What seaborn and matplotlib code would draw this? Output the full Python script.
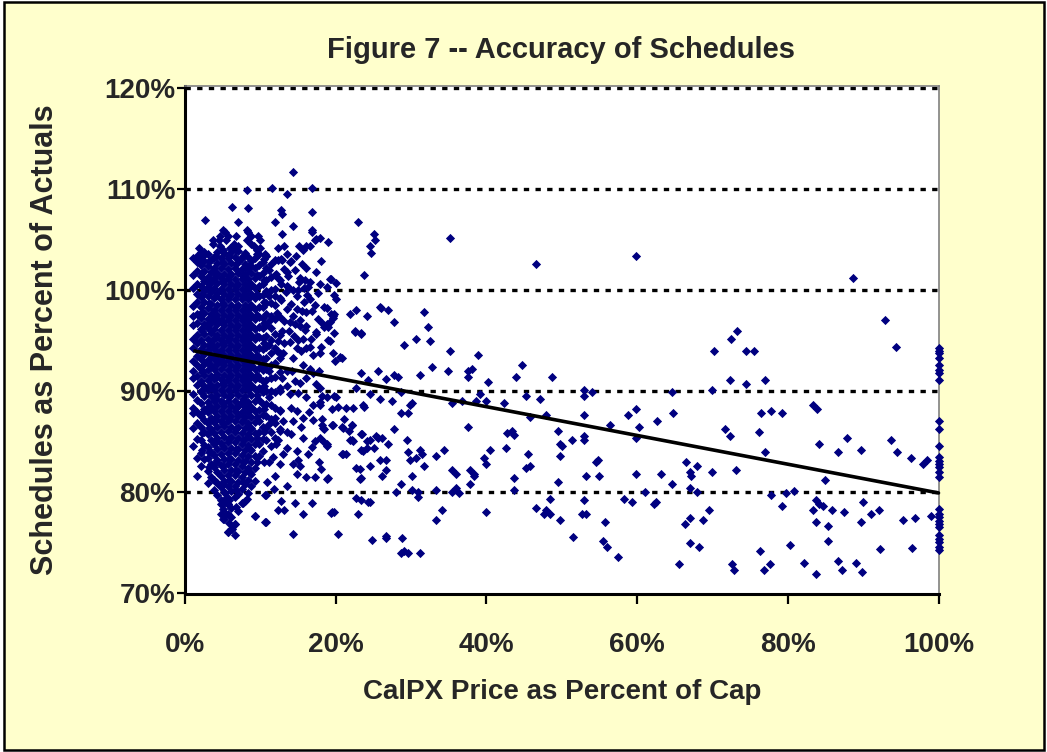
import numpy as np
import pandas as pd
import matplotlib
matplotlib.use("Agg")
import matplotlib.pyplot as plt
from matplotlib.patches import Rectangle
from matplotlib.ticker import FuncFormatter, FixedLocator
import seaborn as sns

# ---------------- data (in percent) ----------------
# dense core, column by column: x position and the y values in that column
core_x = [1.1, 1.6, 2.1, 2.5, 3.0, 3.4, 3.9, 4.3, 4.8, 5.2, 5.7, 6.1, 6.6, 7.0,
          7.5, 7.9, 8.4, 8.8, 9.3, 9.8, 10.3, 10.8, 11.4, 12.0, 12.6]
core_y = [
    [103.2, 101.5, 100.2, 98.5, 97.5, 96.6, 95.2, 94.3, 93.0, 92.0, 91.3, 89.7, 88.4, 87.9, 86.4, 84.6],
    [103.4, 102.8, 101.9, 100.6, 99.6, 98.9, 97.7, 96.8, 95.6, 94.8, 93.5, 92.6, 91.5, 90.6, 89.2, 88.0, 86.9, 85.3, 83.4, 81.6],
    [103.3, 102.5, 101.4, 100.4, 99.3, 98.4, 97.3, 96.2, 95.1, 94.2, 93.2, 92.2, 91.0, 90.0, 88.9, 87.6, 86.5, 85.2, 83.9, 82.6],
    [103.8, 102.9, 101.9, 100.9, 99.9, 98.9, 97.8, 96.7, 95.7, 94.6, 93.7, 92.7, 91.6, 90.5, 89.5, 88.3, 87.2, 86.0, 84.7, 83.3],
    [103.6, 102.4, 101.3, 100.3, 99.4, 98.3, 97.2, 96.3, 95.2, 94.1, 93.1, 92.1, 91.1, 90.1, 89.0, 88.0, 86.9, 85.8, 84.5, 83.4, 82.1, 80.9],
    [103.0, 101.8, 100.8, 99.8, 98.7, 97.7, 96.8, 95.8, 94.7, 93.6, 92.6, 91.5, 90.6, 89.5, 88.5, 87.4, 86.3, 85.2, 84.0, 82.8, 81.5],
    [103.3, 102.2, 101.2, 100.2, 99.2, 98.1, 97.2, 96.2, 95.2, 94.2, 93.2, 92.2, 91.2, 90.1, 89.1, 88.1, 87.0, 85.9, 84.8, 83.7, 82.5, 81.2, 80.2],
    [103.8, 102.7, 101.7, 100.7, 99.7, 98.6, 97.6, 96.7, 95.6, 94.6, 93.7, 92.7, 91.7, 90.6, 89.6, 88.6, 87.6, 86.5, 85.4, 84.3, 83.2, 82.0, 80.9, 79.7],
    [103.2, 102.2, 101.2, 100.1, 99.1, 98.1, 97.1, 96.1, 95.1, 94.1, 93.1, 92.2, 91.2, 90.1, 89.1, 88.1, 87.1, 86.0, 84.9, 83.8, 82.7, 81.6, 80.5, 79.3, 78.9, 77.9],
    [103.7, 102.6, 101.6, 100.6, 99.6, 98.6, 97.6, 96.6, 95.6, 94.6, 93.6, 92.6, 91.6, 90.6, 89.6, 88.6, 87.6, 86.6, 85.5, 84.4, 83.3, 82.2, 81.1, 80.0, 79.0, 77.4],
    [103.2, 102.1, 101.1, 100.1, 99.1, 98.1, 97.1, 96.1, 95.1, 94.1, 93.1, 92.1, 91.1, 90.1, 89.1, 88.1, 87.1, 86.1, 85.0, 83.9, 82.8, 81.7, 80.6, 79.5, 78.9, 77.9, 76.1],
    [103.8, 102.7, 101.6, 100.6, 99.6, 98.6, 97.6, 96.6, 95.6, 94.6, 93.6, 92.6, 91.6, 90.6, 89.6, 88.6, 87.6, 86.5, 85.5, 84.4, 83.3, 82.2, 81.1, 80.1, 78.5, 77.6, 76.4],
    [103.3, 102.2, 101.1, 100.1, 99.1, 98.1, 97.1, 96.1, 95.1, 94.1, 93.1, 92.1, 91.1, 90.1, 89.1, 88.1, 87.1, 86.0, 85.0, 83.9, 82.8, 81.7, 80.6, 79.6, 76.9, 75.8],
    [103.9, 102.8, 101.7, 100.6, 99.6, 98.6, 97.6, 96.6, 95.6, 94.6, 93.6, 92.6, 91.6, 90.6, 89.6, 88.6, 87.6, 86.5, 85.4, 84.3, 83.2, 82.1, 81.0, 79.8, 78.2],
    [103.2, 102.1, 101.1, 100.1, 99.1, 98.1, 97.1, 96.1, 95.1, 94.1, 93.1, 92.1, 91.1, 90.1, 89.0, 88.0, 87.0, 85.9, 84.8, 83.7, 82.6, 81.5, 80.3, 79.0],
    [103.7, 102.6, 101.6, 100.6, 99.6, 98.6, 97.6, 96.6, 95.6, 94.6, 93.6, 92.6, 91.6, 90.6, 89.5, 88.5, 87.5, 86.4, 85.3, 84.2, 83.1, 82.0, 80.8, 79.2],
    [103.3, 102.1, 101.1, 100.1, 99.1, 98.1, 97.1, 96.1, 95.1, 94.1, 93.1, 92.1, 91.1, 90.1, 89.0, 88.0, 86.9, 85.8, 84.7, 83.6, 82.4, 81.2, 79.9],
    [102.9, 101.7, 100.6, 99.6, 98.6, 97.6, 96.6, 95.6, 94.6, 93.6, 92.6, 91.6, 90.6, 89.6, 88.5, 87.5, 86.4, 85.3, 84.2, 83.0, 81.8, 80.6],
    [103.2, 102.2, 101.2, 100.2, 99.2, 98.2, 97.2, 96.2, 95.2, 94.2, 93.2, 92.2, 91.2, 90.2, 89.1, 88.1, 87.0, 85.9, 84.8, 83.6, 82.4, 81.1, 77.7],
    [103.6, 102.5, 101.4, 100.4, 99.4, 98.4, 97.4, 96.4, 95.4, 94.3, 93.3, 92.3, 91.3, 90.3, 89.2, 88.2, 87.1, 86.0, 84.8, 83.6],
    [102.8, 101.7, 100.6, 99.5, 98.4, 97.3, 96.3, 95.3, 94.2, 93.2, 92.1, 91.0, 89.9, 88.8, 87.7, 86.5, 85.3, 84.1],
    [103.4, 102.2, 101.0, 99.9, 98.8, 97.7, 96.6, 95.5, 94.4, 93.3, 92.2, 91.1, 90.0, 88.8, 87.6, 86.4, 85.2, 79.7, 77.1],
    [102.6, 101.3, 100.0, 98.8, 97.5, 96.3, 95.1, 93.8, 92.6, 91.3, 90.0, 88.7, 87.3, 86.0, 84.6],
    [103.0, 101.5, 100.1, 98.6, 97.2, 95.7, 94.3, 92.8, 91.4, 89.9, 88.4, 86.9, 85.4],
    [101.0, 99.2, 97.4, 95.6, 93.8, 91.9, 90.0, 88.2, 86.3],
]

# more core columns lying between the ones above
mid_x = [2.3, 3.2, 4.1, 5.0, 5.9, 6.8, 7.7, 8.6, 9.5, 10.5, 11.1]
mid_y = [
    [103.0, 101.7, 99.6, 97.9, 96.0, 93.9, 91.9, 89.8, 87.9, 85.9, 84.2],
    [102.9, 100.6, 98.8, 96.8, 94.6, 92.7, 90.5, 88.6, 86.4, 84.0, 82.5],
    [103.4, 101.5, 99.4, 97.3, 95.4, 93.3, 91.4, 89.3, 87.2, 85.1, 83.0, 81.0],
    [102.8, 100.9, 98.8, 96.9, 94.8, 92.9, 90.8, 88.9, 86.8, 84.6, 82.6, 80.8, 78.4],
    [103.4, 101.4, 99.4, 97.4, 95.3, 93.4, 91.4, 89.4, 87.3, 85.3, 83.3, 81.2, 79.3, 77.0],
    [102.6, 100.4, 98.4, 96.4, 94.4, 92.4, 90.4, 88.4, 86.3, 84.3, 82.2, 80.2, 78.6],
    [103.4, 101.4, 99.4, 97.3, 95.4, 93.3, 91.4, 89.3, 87.2, 85.2, 83.0, 81.0],
    [102.5, 100.4, 98.5, 96.4, 94.4, 92.5, 90.4, 88.4, 86.3, 84.3, 82.0],
    [103.6, 101.5, 99.6, 97.6, 95.5, 93.6, 91.6, 89.6, 87.5, 85.4, 83.0],
    [103.1, 101.0, 98.9, 96.8, 94.8, 92.6, 90.5, 88.3, 86.0, 83.0],
    [102.0, 99.4, 97.0, 94.6, 92.0, 89.4, 86.8],
]

# upper edge of the cluster
top_pts = [(14.3, 111.7), (8.2, 109.9), (11.6, 110.1), (13.5, 109.5), (16.9, 110.1), (6.3, 108.3),
           (8.4, 108.2), (12.7, 108.0), (12.9, 107.6), (16.9, 107.8), (2.6, 107.0), (7.1, 106.8),
           (11.9, 106.8), (14.3, 106.4), (12.9, 105.6), (16.9, 105.8), (5.0, 106.0), (5.3, 105.8),
           (4.7, 105.4), (5.7, 105.4), (3.7, 105.0), (4.5, 105.0), (5.5, 105.0), (6.8, 105.4),
           (8.2, 106.0), (8.4, 105.8), (8.7, 105.4), (9.7, 105.4), (8.2, 105.0), (10.0, 105.0),
           (1.8, 104.2), (2.1, 103.8), (2.6, 103.6), (3.7, 104.6), (4.7, 104.4), (5.0, 104.0),
           (6.0, 104.2), (6.5, 104.6), (6.8, 104.0), (7.1, 104.4), (8.7, 104.6), (9.2, 104.4),
           (9.5, 104.0), (10.0, 104.2), (10.6, 103.6), (10.8, 103.4), (12.4, 104.2), (13.2, 104.4),
           (15.1, 104.4), (15.6, 104.0), (16.1, 104.4), (16.6, 104.4), (17.2, 105.0), (17.9, 105.2),
           (19.0, 104.8), (16.9, 106.0), (17.4, 105.1)]

# fringe of the cluster (about 11% to 25%) and its lower tail
fringe_pts = [(12.4, 103.0), (12.9, 103.0), (14.0, 102.8), (12.1, 101.6), (12.4, 101.2), (13.5, 101.8),
              (13.7, 101.4), (12.7, 100.6), (13.5, 100.4), (14.3, 100.0), (15.1, 100.8), (15.3, 101.2),
              (15.8, 100.2), (16.6, 100.8), (17.4, 101.8), (14.8, 98.2), (14.3, 97.5), (15.3, 97.1),
              (16.1, 97.9), (16.6, 99.1), (16.1, 96.5), (13.5, 103.6), (12.8, 103.1), (14.1, 102.9),
              (15.5, 102.6), (19.4, 101.1), (13.2, 102.1), (14.6, 102.0), (15.9, 101.0), (13.7, 100.3),
              (15.0, 100.0), (16.3, 100.3), (17.7, 99.7), (18.5, 98.4), (19.4, 97.7), (12.8, 99.0),
              (14.1, 98.7), (15.5, 98.0), (16.8, 98.0), (13.2, 97.0), (14.6, 96.7), (15.9, 96.1),
              (17.4, 95.7), (15.0, 95.1), (13.2, 94.8), (16.6, 94.4), (18.1, 94.4), (19.0, 95.1),
              (18.5, 96.4), (19.6, 93.8), (13.9, 94.9), (14.8, 94.3), (15.7, 95.2), (16.1, 94.3),
              (17.0, 93.6), (17.9, 93.8), (17.4, 95.9), (18.8, 96.7), (19.6, 97.5), (21.9, 97.7),
              (22.5, 95.9), (23.4, 95.7), (24.1, 97.5), (19.9, 93.0), (20.8, 93.3), (12.6, 93.3),
              (14.3, 93.3), (15.7, 92.6), (13.5, 92.0), (14.6, 91.0), (16.1, 91.3), (17.0, 91.8),
              (17.4, 90.7), (12.6, 90.3), (13.9, 89.7), (15.0, 89.8), (16.1, 89.4), (17.0, 88.7),
              (17.9, 89.0), (18.8, 89.4), (20.1, 89.4), (21.4, 88.4), (22.3, 88.4), (23.6, 88.7),
              (14.1, 88.4), (14.8, 88.1), (12.6, 88.1), (11.9, 87.4), (13.0, 87.1), (14.3, 87.1),
              (15.7, 87.4), (17.0, 87.2), (18.3, 86.4), (19.6, 86.7), (21.0, 86.4), (22.1, 86.7),
              (22.3, 85.1), (23.4, 85.8), (24.1, 85.1), (12.6, 86.1), (14.1, 85.8), (15.7, 85.4),
              (17.2, 85.1), (18.8, 84.8), (12.1, 84.8), (13.5, 84.4), (14.8, 84.1), (16.3, 83.8),
              (11.7, 83.5), (12.6, 82.8), (14.3, 82.8), (14.8, 81.8), (16.1, 81.5), (17.2, 81.5),
              (18.8, 81.3), (21.0, 83.8), (21.4, 83.8), (23.6, 84.1), (24.1, 84.4), (23.2, 82.3),
              (23.2, 81.3), (20.6, 93.4), (23.3, 91.8), (22.7, 90.3), (24.3, 91.1), (18.2, 89.5),
              (19.8, 89.5), (19.5, 88.3), (20.3, 88.5), (23.8, 88.5), (18.2, 87.3), (21.1, 87.3),
              (18.5, 86.3), (20.9, 86.5), (21.7, 86.1), (17.9, 85.4), (18.5, 85.0), (21.9, 85.2),
              (23.5, 85.8), (23.3, 84.2), (20.9, 83.8), (22.7, 82.4), (23.3, 81.4), (19.0, 81.4),
              (22.7, 79.5), (23.3, 79.3), (24.3, 79.1), (23.0, 77.9), (19.5, 78.1), (19.8, 78.1),
              (20.3, 75.9), (23.0, 106.8), (23.8, 101.5), (19.3, 101.1), (20.1, 100.7), (18.8, 100.3),
              (19.8, 99.5), (20.1, 99.1), (18.8, 98.3), (19.8, 97.7), (19.6, 97.3), (19.3, 96.9),
              (18.2, 96.8), (19.0, 96.4), (19.8, 95.8), (19.3, 95.0), (22.7, 98.1), (22.5, 96.0),
              (23.3, 95.8), (17.9, 90.3), (17.9, 88.7), (18.2, 86.7), (19.5, 86.7), (22.2, 86.7),
              (18.8, 84.6), (22.2, 85.2), (11.2, 83.0), (12.0, 81.6), (13.6, 80.6), (15.2, 82.6),
              (17.8, 83.0), (10.9, 81.0), (5.3, 79.9), (5.5, 79.5), (4.9, 78.9), (5.7, 78.9),
              (5.5, 77.9), (5.1, 77.4), (6.6, 76.9), (6.2, 76.4), (5.7, 76.1), (7.7, 79.0), (8.2, 79.4),
              (10.6, 79.7), (9.3, 77.7), (10.6, 77.1), (12.8, 79.2), (12.4, 78.3), (13.2, 78.3),
              (14.6, 79.0), (15.7, 77.9), (16.8, 79.0), (14.3, 75.9), (19.4, 78.0),
              (12.2, 97.8), (12.9, 96.0), (13.6, 98.2), (13.8, 96.0), (14.4, 95.5), (15.2, 96.5),
              (15.4, 94.0), (16.7, 95.2), (17.6, 97.2), (17.2, 98.6), (16.2, 99.5), (14.9, 99.4),
              (13.4, 99.8), (12.3, 95.0), (12.9, 91.3), (13.5, 90.5), (14.2, 92.0), (15.3, 90.8),
              (16.6, 92.2), (17.8, 92.0), (16.4, 88.0), (15.4, 86.5), (13.6, 86.0), (12.3, 85.2),
              (13.0, 83.8), (15.0, 83.2), (16.9, 84.5), (18.0, 82.3), (11.8, 80.3), (12.2, 94.0),
              (13.0, 93.8), (14.0, 96.9), (15.8, 98.9), (17.9, 100.6), (16.0, 102.2), (18.1, 102.9),
              (14.7, 103.4), (12.0, 99.4)]

# sparse points at higher prices
sparse_pts = [(25.1, 105.6), (25.2, 105.0), (24.5, 104.4), (24.7, 103.7), (35.2, 105.2), (46.6, 102.6),
              (59.8, 103.4), (25.9, 98.4), (26.0, 98.3), (27.0, 98.1), (27.8, 96.9), (31.7, 97.9),
              (32.3, 96.4), (32.5, 95.0), (29.1, 94.6), (30.7, 95.2), (35.2, 94.0), (38.9, 93.6),
              (32.8, 92.4), (34.9, 92.0), (37.6, 92.0), (38.1, 92.2), (37.6, 91.4), (40.2, 90.9),
              (44.7, 92.6), (43.9, 91.4), (48.7, 91.4), (25.6, 92.0), (27.8, 91.6), (28.3, 91.4),
              (26.7, 91.2), (31.2, 91.6), (24.5, 89.7), (25.9, 89.3), (27.5, 89.1), (28.6, 89.9),
              (29.9, 88.7), (30.1, 88.9), (28.6, 87.9), (29.6, 87.9), (35.5, 88.9), (36.8, 89.1),
              (38.6, 89.1), (39.1, 89.7), (40.0, 89.1), (42.3, 88.9), (45.2, 89.5), (47.1, 89.3),
              (45.8, 87.5), (47.9, 87.7), (52.9, 90.1), (52.9, 89.5), (54.0, 89.9), (52.9, 87.7),
              (58.8, 87.7), (59.8, 88.3), (56.4, 86.7), (60.3, 86.5), (62.7, 87.1), (37.6, 86.5),
              (27.8, 86.3), (42.8, 85.9), (43.4, 86.1), (43.7, 85.7), (49.5, 86.1), (49.8, 84.8),
              (50.0, 84.6), (51.3, 85.2), (52.9, 85.6), (52.9, 85.2), (59.8, 85.4), (25.4, 85.6),
              (25.6, 85.4), (26.2, 85.4), (24.5, 85.2), (25.1, 84.4), (27.0, 84.8), (29.4, 85.2),
              (29.6, 84.0), (29.9, 83.2), (30.7, 83.4), (31.2, 84.2), (31.4, 83.8), (31.7, 82.6),
              (33.3, 83.6), (34.4, 84.2), (25.9, 83.2), (26.7, 83.2), (26.7, 82.2), (26.2, 81.6),
              (24.5, 82.6), (35.5, 82.2), (36.0, 81.8), (37.8, 82.2), (38.4, 81.8), (38.4, 81.6),
              (37.8, 80.8), (39.7, 83.4), (40.0, 82.8), (40.5, 84.2), (42.6, 84.4), (43.6, 81.4),
              (45.5, 83.8), (45.2, 82.4), (45.8, 82.6), (49.8, 83.6), (49.5, 81.0), (54.5, 83.0),
              (54.8, 83.2), (53.2, 81.6), (55.0, 81.6), (59.8, 81.8), (63.2, 81.8), (28.6, 80.8),
              (28.0, 80.0), (30.1, 80.2), (30.9, 80.0), (30.9, 79.6), (30.1, 81.6), (33.3, 80.2),
              (35.5, 80.0), (36.0, 80.4), (36.3, 79.9), (43.6, 80.2), (48.4, 79.4), (52.9, 79.3),
              (58.2, 79.4), (59.3, 79.1), (61.1, 80.0), (62.2, 78.9), (62.5, 79.1), (24.5, 79.1),
              (33.3, 77.3), (34.1, 78.3), (39.9, 78.1), (46.6, 78.5), (47.9, 78.3), (47.6, 77.9),
              (48.4, 77.9), (49.8, 77.3), (52.7, 77.9), (53.2, 77.9), (55.8, 77.1), (24.8, 75.3),
              (26.7, 75.7), (26.7, 75.5), (28.8, 75.5), (28.6, 74.0), (29.1, 74.2), (29.6, 74.0),
              (31.2, 74.0), (88.7, 101.2), (92.9, 97.1), (94.3, 94.4), (70.2, 94.0), (72.5, 95.2),
              (73.3, 96.0), (74.4, 94.0), (75.5, 94.0), (72.3, 91.1), (74.4, 90.7), (77.0, 91.1),
              (64.6, 89.9), (69.9, 90.1), (64.8, 87.9), (76.5, 87.9), (77.8, 88.1), (79.2, 87.9),
              (83.4, 88.7), (83.9, 88.3), (71.7, 86.3), (72.3, 85.6), (76.2, 86.0), (77.0, 84.0),
              (84.2, 84.8), (86.6, 84.0), (87.9, 85.4), (89.7, 84.2), (93.7, 85.2), (94.5, 84.0),
              (96.4, 83.4), (98.0, 82.8), (98.5, 83.2), (66.5, 83.0), (67.0, 82.0), (67.2, 81.6),
              (68.0, 82.6), (69.9, 82.0), (73.1, 82.2), (64.6, 80.8), (67.0, 80.4), (68.0, 80.0),
              (85.0, 81.2), (77.8, 79.7), (79.2, 78.7), (79.7, 79.9), (80.8, 80.1), (83.7, 79.3),
              (84.2, 78.9), (84.7, 78.7), (83.4, 78.3), (85.8, 78.3), (87.4, 78.1), (90.0, 79.1),
              (91.1, 77.9), (92.1, 78.3), (69.6, 78.3), (67.0, 77.5), (66.4, 76.9), (68.8, 77.3),
              (83.7, 77.1), (85.3, 76.7), (89.7, 77.1), (95.3, 77.3), (96.9, 77.5), (99.0, 77.7),
              (65.6, 72.9), (72.6, 72.9), (72.9, 72.3), (76.9, 72.3), (77.7, 72.9), (82.2, 73.0),
              (83.8, 71.9), (86.6, 73.2), (87.2, 72.3), (89.0, 73.0), (89.8, 72.1), (51.5, 75.6),
              (55.5, 75.2), (56.0, 74.6), (57.4, 73.6), (67.0, 75.0), (68.2, 74.6), (76.3, 74.2),
              (80.3, 74.8), (85.4, 75.2), (92.3, 74.4), (96.5, 74.5)]

# hours at the price cap (x = 100%)
cap_x = 100.0
cap_y = [94.3, 94.0, 93.8, 93.3, 92.6, 92.1, 91.8, 91.1, 87.1, 86.3, 84.6, 83.5, 83.1, 82.8,
         82.5, 82.0, 81.5, 78.4, 77.9, 77.6, 77.2, 76.9, 76.6, 75.8, 75.4, 75.1, 74.6, 74.3]

# linear trend line
trend_x = [1.3, 100.0]
trend_y = [94.0, 79.95]

x_ticks = [0, 20, 40, 60, 80, 100]
y_ticks = [70, 80, 90, 100, 110, 120]

title = "Figure 7 -- Accuracy of Schedules"
x_label = "CalPX Price as Percent of Cap"
y_label = "Schedules as Percent of Actuals"

# ---------------- assemble ----------------
xs, ys = [], []
for cols_x, cols_y in ((core_x, core_y), (mid_x, mid_y)):
    for cx, col in zip(cols_x, cols_y):
        xs.extend([cx] * len(col))
        ys.extend(col)
for pts in (top_pts, fringe_pts, sparse_pts):
    xs.extend(p[0] for p in pts)
    ys.extend(p[1] for p in pts)
xs.extend([cap_x] * len(cap_y))
ys.extend(cap_y)
df = pd.DataFrame({"price": xs, "sched": ys})
trend = pd.DataFrame({"x": trend_x, "y": trend_y})

# ---------------- draw ----------------
sns.set_style("white")
plt.rcParams["font.family"] = ["Liberation Sans", "DejaVu Sans"]
plt.rcParams["font.weight"] = "bold"

W, H = 1047, 752
fig = plt.figure(figsize=(W / 100, H / 100), dpi=100)
fig.patch.set_facecolor("white")
fig.patches.append(Rectangle((4 / W, 2 / H), (1044 - 4) / W, (750 - 2) / H,
                             transform=fig.transFigure, facecolor="#FFFFCC",
                             edgecolor="black", linewidth=1.8, zorder=-10))

ax_left, ax_right = 185 / W, 938.5 / W
ax_bottom, ax_top = 1 - 593.5 / H, 1 - 85.8 / H
ax = fig.add_axes([ax_left, ax_bottom, ax_right - ax_left, ax_top - ax_bottom])
ax.set_facecolor("white")

sns.scatterplot(data=df, x="price", y="sched", ax=ax, color="#000080", marker="D",
                s=22, linewidth=0, zorder=3, clip_on=False, legend=False)
sns.lineplot(data=trend, x="x", y="y", ax=ax, color="black", linewidth=2.6,
             zorder=4, legend=False, clip_on=False)

ax.set_xlim(0, 100)
ax.set_ylim(70, 120.25)
ax.xaxis.set_major_locator(FixedLocator(x_ticks))
ax.yaxis.set_major_locator(FixedLocator(y_ticks))
pct = FuncFormatter(lambda v, p: f"{v:.0f}%")
ax.xaxis.set_major_formatter(pct)
ax.yaxis.set_major_formatter(pct)

for gy in y_ticks[1:]:
    ax.axhline(gy, color="black", linewidth=2.4, linestyle=(0, (1.6, 1.9)), zorder=1)

for side in ("top", "right"):
    ax.spines[side].set_color("#808080")
    ax.spines[side].set_linewidth(1.2)
for side in ("left", "bottom"):
    ax.spines[side].set_color("black")
    ax.spines[side].set_linewidth(2.2)

ax.tick_params(axis="y", direction="out", length=6, width=1.6, color="black",
               pad=1, labelsize=20, left=True)
ax.tick_params(axis="x", direction="out", length=7, width=1.6, color="black",
               pad=21, labelsize=20, bottom=True)
for lab in ax.get_xticklabels() + ax.get_yticklabels():
    lab.set_fontweight("bold")

ax.set_xlabel(x_label, fontsize=20, fontweight="bold")
ax.set_ylabel(y_label, fontsize=22, fontweight="bold")
ax_h = (ax_top - ax_bottom) * H
ax_w = (ax_right - ax_left) * W
ax.xaxis.set_label_coords(0.5, (593.5 - 692) / ax_h)
ax.xaxis.label.set_va("center")
ax.yaxis.set_label_coords((45 - 185) / ax_w, (593.5 - 340) / ax_h)
ax.yaxis.label.set_va("center")

fig.text(561 / W, 1 - 50 / H, title, ha="center", va="center",
         fontsize=21, fontweight="bold")

fig.savefig("out.png", dpi=100, facecolor=fig.get_facecolor())
